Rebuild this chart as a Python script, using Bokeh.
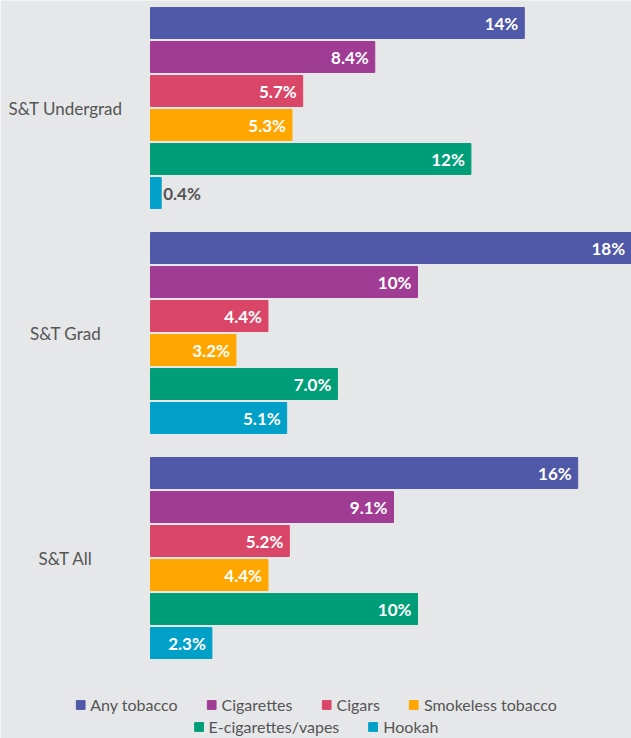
from bokeh.plotting import figure
from bokeh.models import Range1d, Legend, LegendItem, ColumnDataSource
from bokeh.core.properties import value
from bokeh.embed import file_html
from bokeh.resources import INLINE

groups = ["S&T Undergrad", "S&T Grad", "S&T All"]
series = ["Any tobacco", "Cigarettes", "Cigars", "Smokeless tobacco",
          "E-cigarettes/vapes", "Hookah"]
colors = ["#5058a8", "#a03c94", "#d94668", "#ffa600", "#009e78", "#00a0c8"]
any_tobacco = [14, 18, 16]
cigarettes = [8.4, 10, 9.1]
cigars = [5.7, 4.4, 5.2]
smokeless = [5.3, 3.2, 4.4]
ecig = [12, 7.0, 10]
hookah = [0.4, 5.1, 2.3]
values_by_series = [any_tobacco, cigarettes, cigars, smokeless, ecig, hookah]

FONT = "Lato"
BG = "#e6e7e9"
GROUP_STEP = 6.618
BAR_H = 0.91

p = figure(width=631, height=738, output_backend="svg", toolbar_location=None,
           x_range=Range1d(-5.618, 18.015), y_range=Range1d(21.044, -0.662),
           min_border=0)
p.background_fill_color = BG
p.border_fill_color = BG
p.outline_line_color = None
p.xaxis.visible = False
p.yaxis.visible = False
p.xgrid.visible = False
p.ygrid.visible = False

renderers = []
for i, (name, col, vals) in enumerate(zip(series, colors, values_by_series)):
    ys = [g * GROUP_STEP + i for g in range(len(groups))]
    labels = [f"{v:.0f}%" if v >= 10 else f"{v:.1f}%" for v in vals]
    src = ColumnDataSource(dict(y=ys, v=vals, lab=labels))
    r = p.hbar(y="y", right="v", left=0, height=BAR_H, color=col, source=src)
    renderers.append(r)
    inside = ColumnDataSource(dict(y=[y for y, v in zip(ys, vals) if v >= 1.5],
                                   v=[v for v in vals if v >= 1.5],
                                   lab=[l for l, v in zip(labels, vals) if v >= 1.5]))
    outside = ColumnDataSource(dict(y=[y for y, v in zip(ys, vals) if v < 1.5],
                                    v=[v for v in vals if v < 1.5],
                                    lab=[l for l, v in zip(labels, vals) if v < 1.5]))
    p.text(x="v", y="y", text="lab", source=inside, text_align="right",
           text_baseline="middle", x_offset=-6, text_color="white",
           text_font=value(FONT), text_font_style="bold", text_font_size="17px")
    p.text(x="v", y="y", text="lab", source=outside, text_align="left",
           text_baseline="middle", x_offset=2, text_color="#555555",
           text_font=value(FONT), text_font_style="bold", text_font_size="17px")

gsrc = ColumnDataSource(dict(x=[-3.18] * 3,
                             y=[g * GROUP_STEP + 2.5 for g in range(len(groups))],
                             t=groups))
p.text(x="x", y="y", text="t", source=gsrc, text_align="center",
       text_baseline="middle", text_color="#555555", text_font=value(FONT),
       text_font_size="17px")

def make_legend(idx, margin):
    leg = Legend(items=[LegendItem(label=series[k], renderers=[renderers[k]]) for k in idx],
                 orientation="horizontal", location="bottom",
                 background_fill_alpha=0, border_line_color=None,
                 label_text_font=FONT, label_text_font_size="16px",
                 label_text_color="#555555", glyph_width=11, glyph_height=11,
                 label_standoff=5, spacing=28, padding=0, margin=margin,
                 label_height=18)
    return leg

p.add_layout(make_legend([0, 1, 2, 3], 24))
p.add_layout(make_legend([4, 5], 2))

open("out.html", "w").write(file_html(p, INLINE))
